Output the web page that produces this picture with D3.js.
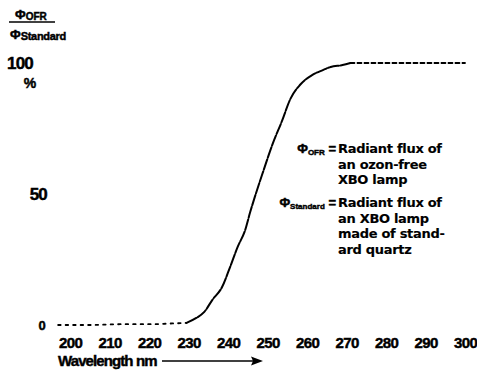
<!DOCTYPE html>
<html>
<head>
<meta charset="utf-8">
<script src="https://cdn.jsdelivr.net/npm/d3@7/dist/d3.min.js"></script>
<style>
  html, body { margin: 0; padding: 0; background: #fff; }
  svg { display: block; }
  text { font-family: "Liberation Sans", Arial, sans-serif; font-weight: bold; fill: #000; stroke: #000; stroke-width: 0.45px; }
  text.legend { font-family: "DejaVu Sans", sans-serif; stroke-width: 0.15px; }
</style>
</head>
<body>
<svg id="chart" width="477" height="375"></svg>
<script>
// Relative radiant flux (ozone-free / standard quartz XBO lamp) vs wavelength
const wavelength = [197, 205, 213, 220, 226, 229.5, 232, 234, 236, 238.5, 240.5, 242.5, 244.3, 245.6, 249, 251.4, 253.7, 255.7, 258.2, 261.3, 264, 266, 269, 271, 280, 290, 300];
const ratioPct   = [0, 0, 0.3, 0.3, 0.6, 0.8, 2.7, 5, 9.5, 14.5, 22, 30, 36, 43, 59, 69.5, 78, 86, 91.6, 95.4, 97.3, 98.5, 99.2, 100, 100, 100, 100];
const xTicks = [200, 210, 220, 230, 240, 250, 260, 270, 280, 290, 300];
const yTicks = [0, 50, 100];
const legendOFR = ["Radiant flux of", "an ozon-free", "XBO lamp"];
const legendStd = ["Radiant flux of", "an XBO lamp", "made of stand-", "ard quartz"];

const svg = d3.select("#chart");
const x = d3.scaleLinear().domain([200, 300]).range([70, 465]);
const y = d3.scaleLinear().domain([0, 100]).range([325, 63]);

// x axis: labels only
const xAxis = svg.append("g")
  .attr("transform", "translate(0,337)")
  .call(d3.axisBottom(x).tickValues(xTicks).tickSize(0).tickPadding(0).tickFormat(d3.format("d")));
xAxis.select(".domain").remove();
xAxis.selectAll("text")
  .attr("dy", "0.71em")
  .style("font-family", "'Liberation Sans', Arial, sans-serif")
  .style("font-weight", "bold")
  .style("font-size", "15px")
  .style("letter-spacing", "-0.6px")
  .attr("fill", "#000");

// y axis: labels only
const yAxis = svg.append("g")
  .attr("transform", "translate(47,0)")
  .call(d3.axisLeft(y).tickValues(yTicks).tickSize(0).tickPadding(0).tickFormat(d3.format("d")));
yAxis.select(".domain").remove();
yAxis.selectAll("text")
  .style("font-family", "'Liberation Sans', Arial, sans-serif")
  .style("font-weight", "bold")
  .style("font-size", d => d === 0 ? "13px" : "17px")
  .style("letter-spacing", "-0.8px")
  .attr("fill", "#000")
  .attr("x", d => d === 100 ? -14 : (d === 0 ? -2 : 0));
svg.append("text")
  .attr("x", 30).attr("y", 88)
  .attr("text-anchor", "middle")
  .style("font-size", "14px")
  .text("%");

// axis title: Φ_OFR / Φ_Standard
const num = svg.append("text").attr("x", 15).attr("y", 19).style("font-size", "13px");
num.append("tspan").text("Φ");
num.append("tspan").attr("dy", 1).style("font-size", "10px").text("OFR");
svg.append("line")
  .attr("x1", 9).attr("x2", 55).attr("y1", 22).attr("y2", 22)
  .attr("stroke", "#000").attr("stroke-width", 1.6);
const den = svg.append("text").attr("x", 10).attr("y", 39).style("font-size", "13px");
den.append("tspan").text("Φ");
den.append("tspan").attr("dy", 1).style("font-size", "11px").style("letter-spacing", "-0.3px").text("Standard");

// x axis title with arrow
svg.append("text")
  .attr("x", 58).attr("y", 366)
  .style("font-size", "15px")
  .style("letter-spacing", "-0.9px")
  .text("Wavelength nm");
svg.append("line")
  .attr("x1", 162).attr("x2", 254).attr("y1", 361).attr("y2", 361)
  .attr("stroke", "#000").attr("stroke-width", 1.6);
svg.append("path")
  .attr("d", "M263,361 L251,356.5 L253,361 L251,365.5 Z")
  .attr("fill", "#000");

// curve, split in three runs with different dash patterns
const pts = wavelength.map((w, i) => [w, ratioPct[i]]);
const line = d3.line().x(d => x(d[0])).y(d => y(d[1])).curve(d3.curveMonotoneX);
const runs = [
  { data: pts.filter(d => d[0] <= 229.5), dash: "2.5,5", w: 1.8 },
  { data: pts.filter(d => d[0] >= 229.5 && d[0] <= 271), dash: "11,1.6", w: 2 },
  { data: pts.filter(d => d[0] >= 271), dash: "4,3", w: 1.8 }
];
svg.append("g").selectAll("path")
  .data(runs)
  .join("path")
  .attr("d", r => line(r.data))
  .attr("fill", "none")
  .attr("stroke", "#000")
  .attr("stroke-width", r => r.w)
  .attr("stroke-dasharray", r => r.dash)
  .attr("stroke-linecap", "round");

// legend
function legendBlock(symbolSub, lines, top) {
  const sym = svg.append("text").attr("x", 336).attr("y", top).attr("text-anchor", "end").style("font-size", "13px");
  sym.append("tspan").text("Φ");
  sym.append("tspan").attr("dy", 2).style("font-size", "8px").text(symbolSub);
  sym.append("tspan").attr("dy", -2).style("font-size", "13px").text(" =");
  svg.append("g").selectAll("text")
    .data(lines)
    .join("text")
    .attr("class", "legend")
    .attr("x", 338)
    .attr("y", (d, i) => top + i * 15.5)
    .style("font-size", "13px")
    .style("letter-spacing", "-0.3px")
    .text(d => d);
}
legendBlock("OFR", legendOFR, 153);
legendBlock("Standard", legendStd, 207);
</script>
</body>
</html>
